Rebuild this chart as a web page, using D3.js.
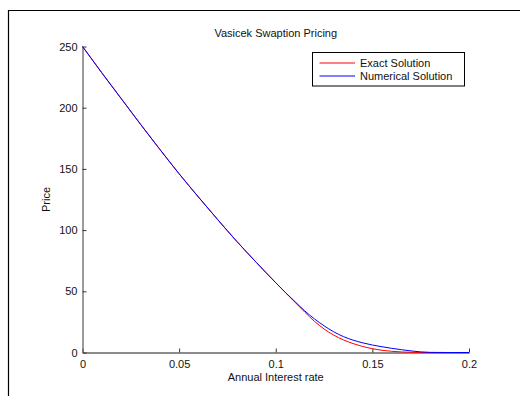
<!DOCTYPE html>
<html lang="en">
<head>
  <meta charset="UTF-8" />
  <title>Vasicek Swaption Pricing</title>
  <script src="https://cdn.jsdelivr.net/npm/d3@7/dist/d3.min.js"></script>
  <style>
    body { margin: 0; background: #fff; }
    svg { display: block; font-family: Arial, "Liberation Sans", sans-serif; }
  </style>
</head>
<body>
  <script>
    // interest rate grid and the two price curves
    var rates = [0, 0.01, 0.02, 0.03, 0.04, 0.05, 0.06, 0.07, 0.08, 0.09, 0.10,
      0.105, 0.11, 0.115, 0.12, 0.125, 0.13, 0.135, 0.14, 0.145, 0.15,
      0.155, 0.16, 0.165, 0.17, 0.175, 0.18, 0.19, 0.2];
    var exactPrice = [250, 228.5, 207.5, 186.5, 166, 146, 127, 108.5, 90.5, 73.5, 57,
      49, 41, 33, 25.5, 19.2, 14.2, 10.3, 7.3, 4.9, 3.1,
      1.8, 1.0, 0.45, 0.15, 0.05, 0, 0, 0];
    var numericalPrice = [250, 228.5, 207.5, 186.5, 166, 146, 127, 108.5, 90.5, 73.5, 57,
      49, 41.5, 34, 27.5, 21.8, 16.9, 13.0, 10.1, 7.9, 6.1,
      4.7, 3.4, 2.3, 1.3, 0.5, 0.1, 0, 0];
    var xTicks = [0, 0.05, 0.1, 0.15, 0.2];
    var yTicks = [0, 50, 100, 150, 200, 250];
    var series = [
      { name: "Exact Solution", values: exactPrice, color: "#ff0000" },
      { name: "Numerical Solution", values: numericalPrice, color: "#0000ff" }
    ];

    var w = 520, h = 396;
    var margin = { top: 46.5, right: 51, bottom: 43.5, left: 82.5 };

    var svg = d3.select("body").append("svg")
      .attr("width", w)
      .attr("height", h);

    // figure border (only top and left edges show)
    svg.append("path")
      .attr("d", "M8.5," + h + "V10.5H" + w)
      .attr("fill", "none")
      .attr("stroke", "#000")
      .attr("stroke-width", 1.2);

    var xScale = d3.scaleLinear()
      .domain([0, 0.2])
      .range([margin.left, w - margin.right]);

    var yScale = d3.scaleLinear()
      .domain([0, 250])
      .range([h - margin.bottom, margin.top]);

    var xAxis = d3.axisBottom(xScale)
      .tickValues(xTicks)
      .tickFormat(function(d) { return d3.format("")(+d.toFixed(2)); })
      .tickSizeInner(-4)
      .tickSizeOuter(0)
      .tickPadding(8);

    var yAxis = d3.axisLeft(yScale)
      .tickValues(yTicks)
      .tickSizeInner(-4)
      .tickSizeOuter(0)
      .tickPadding(5);

    var gx = svg.append("g")
      .attr("transform", "translate(0," + (h - margin.bottom) + ")")
      .call(xAxis);

    var gy = svg.append("g")
      .attr("transform", "translate(" + margin.left + ",0)")
      .call(yAxis);

    [gx, gy].forEach(function(g) {
      g.select(".domain").attr("stroke", "#666").attr("stroke-width", 1.3);
      g.selectAll(".tick line").attr("stroke", "#333");
      g.selectAll(".tick text")
        .attr("fill", "#111")
        .style("font-size", "11px")
        .style("font-family", "Arial, 'Liberation Sans', sans-serif");
    });

    var line = d3.line()
      .x(function(d, i) { return xScale(rates[i]); })
      .y(function(d) { return yScale(d); })
      .curve(d3.curveMonotoneX);

    svg.selectAll(".series")
      .data(series)
      .enter()
      .append("path")
      .attr("class", "series")
      .attr("d", function(d) { return line(d.values); })
      .attr("fill", "none")
      .attr("stroke", function(d) { return d.color; })
      .attr("stroke-width", 1);

    // title and axis labels
    svg.append("text")
      .attr("x", (margin.left + w - margin.right) / 2)
      .attr("y", 37)
      .attr("text-anchor", "middle")
      .style("font-size", "11px")
      .attr("fill", "#111")
      .text("Vasicek Swaption Pricing");

    svg.append("text")
      .attr("x", (margin.left + w - margin.right) / 2)
      .attr("y", 381)
      .attr("text-anchor", "middle")
      .style("font-size", "11px")
      .attr("fill", "#111")
      .text("Annual Interest rate");

    svg.append("text")
      .attr("transform", "translate(50," + ((margin.top + h - margin.bottom) / 2) + ") rotate(-90)")
      .attr("text-anchor", "middle")
      .style("font-size", "11px")
      .attr("fill", "#111")
      .text("Price");

    // legend
    var legend = svg.append("g").attr("transform", "translate(312.5,52.5)");
    legend.append("rect")
      .attr("width", 152)
      .attr("height", 33.5)
      .attr("fill", "#fff")
      .attr("stroke", "#000")
      .attr("stroke-width", 1);

    var items = legend.selectAll(".item")
      .data(series)
      .enter()
      .append("g")
      .attr("transform", function(d, i) { return "translate(0," + (10.5 + i * 13) + ")"; });

    items.append("line")
      .attr("x1", 7)
      .attr("x2", 42.5)
      .attr("stroke", function(d) { return d.color; })
      .attr("stroke-width", 1.2);

    items.append("text")
      .attr("x", 47.5)
      .attr("y", 4)
      .style("font-size", "11px")
      .attr("fill", "#111")
      .text(function(d) { return d.name; });
  </script>
</body>
</html>
